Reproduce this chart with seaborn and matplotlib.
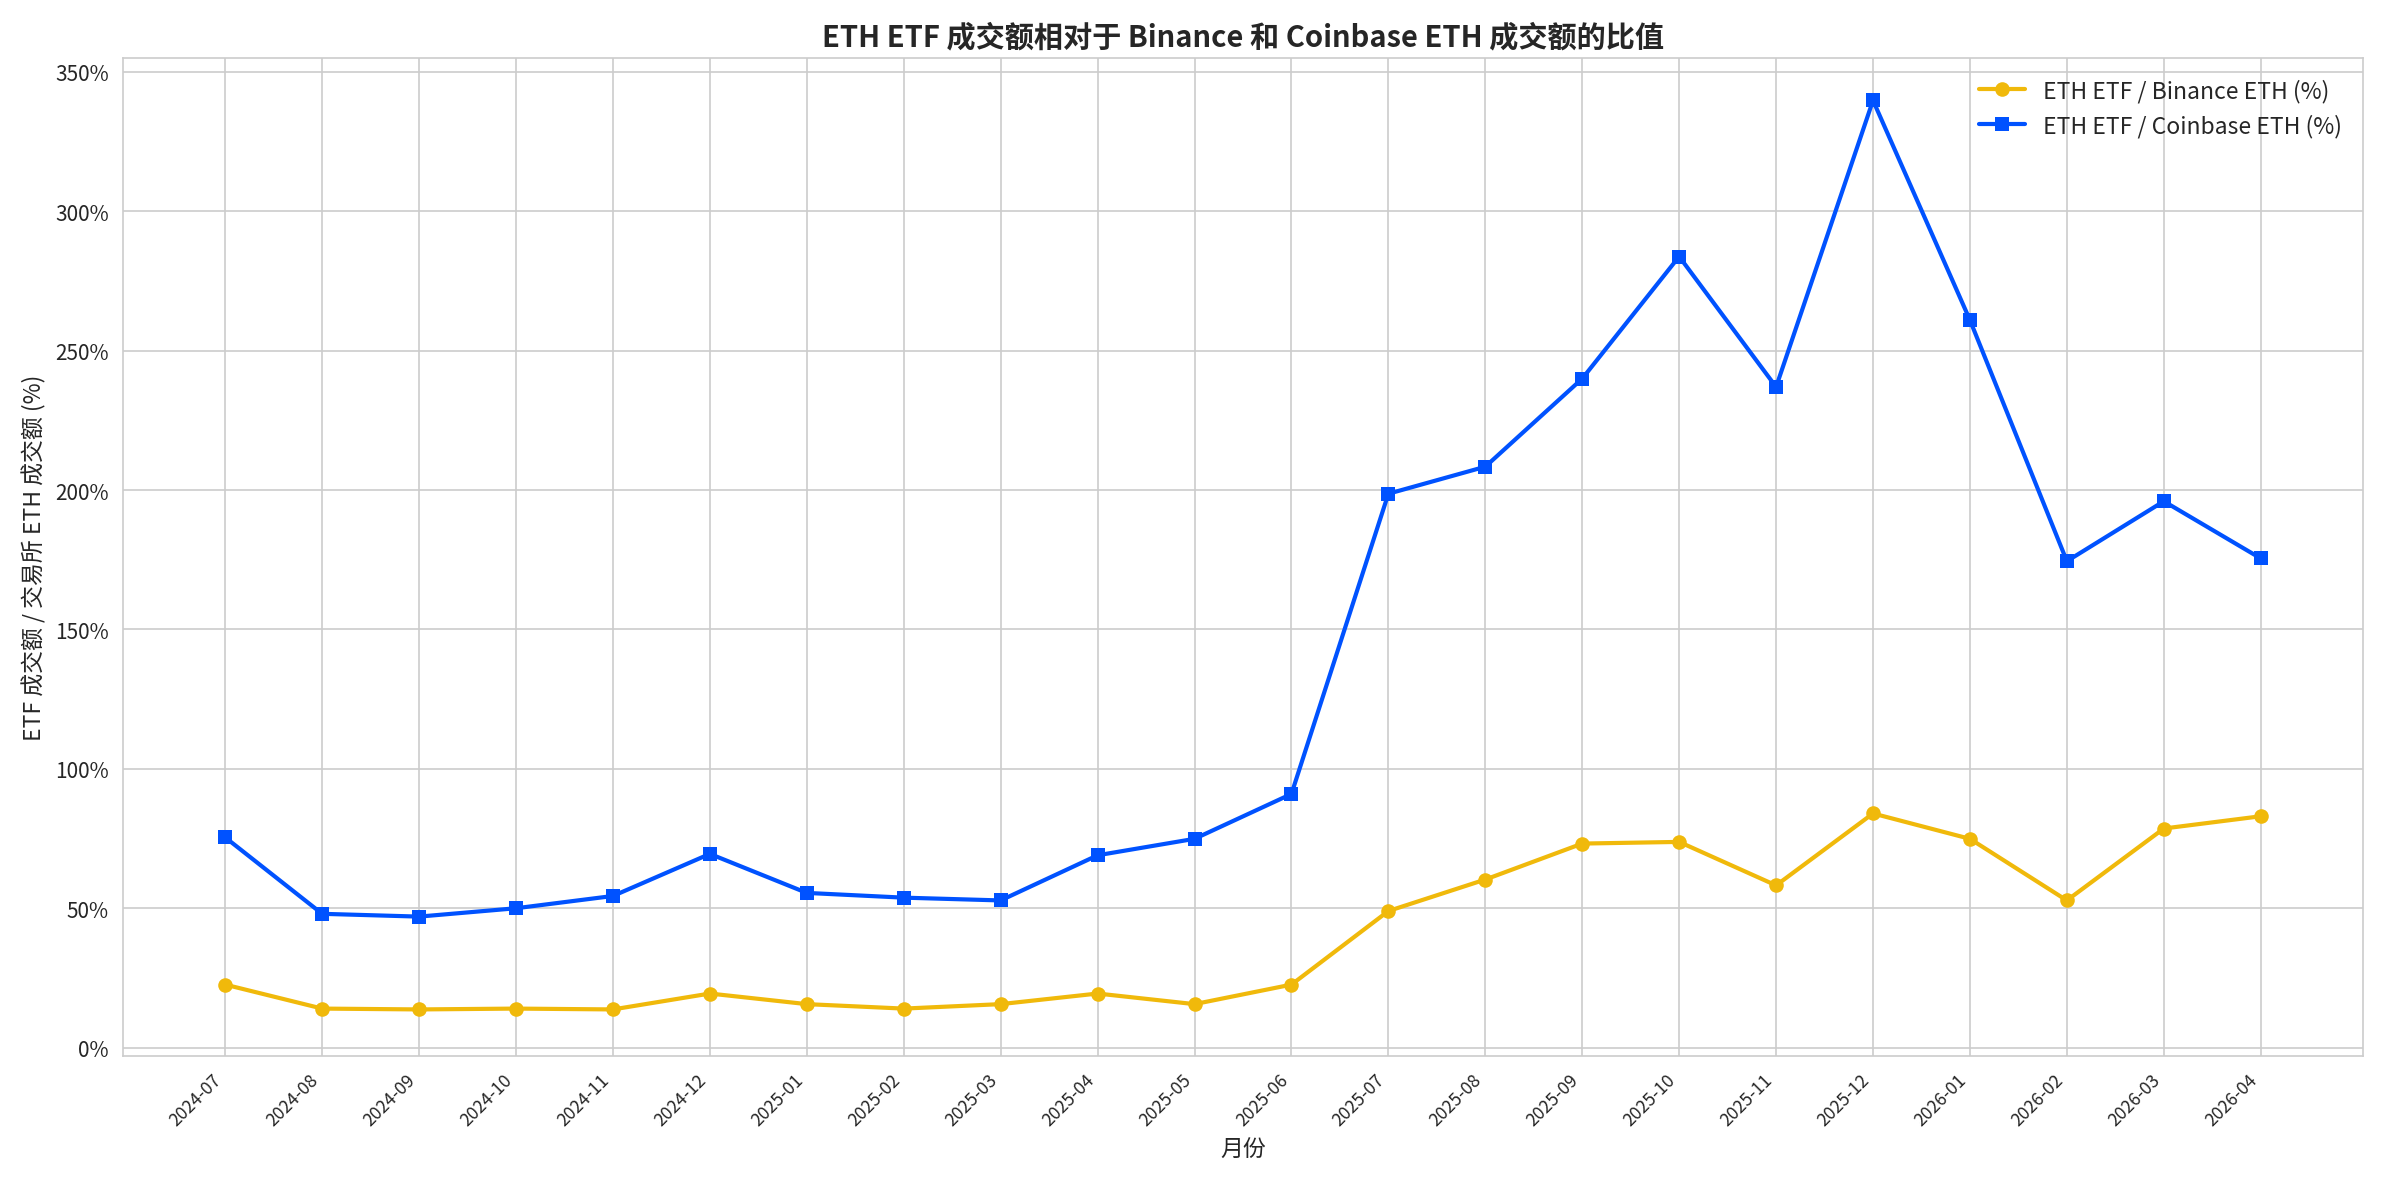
import numpy as np
import pandas as pd
import matplotlib
matplotlib.use('Agg')
import matplotlib.pyplot as plt
import seaborn as sns
from matplotlib.ticker import FuncFormatter

months = ['2024-07', '2024-08', '2024-09', '2024-10', '2024-11', '2024-12',
          '2025-01', '2025-02', '2025-03', '2025-04', '2025-05', '2025-06',
          '2025-07', '2025-08', '2025-09', '2025-10', '2025-11', '2025-12',
          '2026-01', '2026-02', '2026-03', '2026-04']
binance_pct = [22.6, 14.0, 13.7, 14.0, 13.7, 19.4, 15.6, 14.0, 15.6, 19.4, 15.6, 22.6,
               49.0, 60.3, 73.2, 73.8, 58.2, 84.0, 74.9, 52.8, 78.6, 83.0]
coinbase_pct = [75.4, 48.0, 47.0, 50.0, 54.4, 69.5, 55.5, 53.8, 52.8, 69.0, 74.9, 91.0,
                198.7, 208.4, 240.0, 283.8, 237.0, 339.8, 261.0, 174.5, 196.0, 175.5]

sns.set_style('whitegrid')
plt.rcParams['font.family'] = ['Noto Sans CJK SC', 'DejaVu Sans']
plt.rcParams['axes.unicode_minus'] = False

df = pd.DataFrame({'month': months, 'binance': binance_pct, 'coinbase': coinbase_pct})
df['x'] = np.arange(len(months))

fig, ax = plt.subplots(figsize=(15.9, 7.893), dpi=150)

sns.lineplot(data=df, x='x', y='binance', ax=ax, color='#F0B90B', marker='o',
             markersize=7, linewidth=2, markeredgewidth=0, label='ETH ETF / Binance ETH (%)')
sns.lineplot(data=df, x='x', y='coinbase', ax=ax, color='#0052FF', marker='s',
             markersize=7, linewidth=2, markeredgewidth=0, label='ETH ETF / Coinbase ETH (%)')

ax.set_xticks(df['x'])
ax.set_xticklabels(months, rotation=45, ha='right', fontsize=8.5)
ax.set_xlim(-1.05, 22.05)
ax.set_ylim(-3, 355)
ax.set_yticks(range(0, 351, 50))
ax.yaxis.set_major_formatter(FuncFormatter(lambda v, p: f'{v:.0f}%'))
ax.tick_params(axis='y', labelsize=10)
for s in ax.spines.values():
    s.set_color('#cccccc')

ax.set_title('ETH ETF 成交额相对于 Binance 和 Coinbase ETH 成交额的比值',
             fontsize=14, fontweight='bold')
ax.set_xlabel('月份', fontsize=11)
ax.set_ylabel('ETF 成交额 / 交易所 ETH 成交额 (%)', fontsize=11)
ax.legend(loc='upper right', fontsize=11, frameon=False)

plt.tight_layout()
plt.savefig('out.png', dpi=150)
plt.close()
